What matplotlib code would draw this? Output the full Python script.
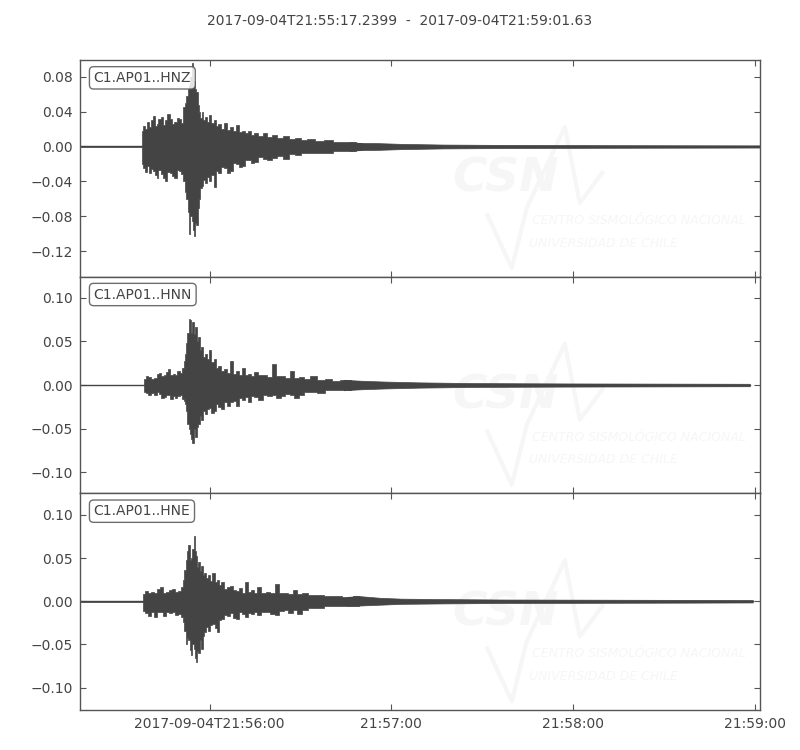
import datetime as dt

import matplotlib
matplotlib.use("Agg")
import matplotlib.pyplot as plt
import matplotlib.dates as mdates
import numpy as np

# trace start / end
start = dt.datetime(2017, 9, 4, 21, 55, 17, 239900)
end = dt.datetime(2017, 9, 4, 21, 59, 1, 630000)

channels = ["C1.AP01..HNZ", "C1.AP01..HNN", "C1.AP01..HNE"]

# envelope of each trace (seconds after start, amplitude)
hnz_t = [0, 20.2, 20.6, 21.2, 21.8, 22.5, 23.2, 23.8, 24.3, 25.0, 25.5,
         26.2, 27, 27.7, 28.5, 29.2, 30, 30.8, 31.5, 32.2, 33, 33.7, 34.3,
         34.8, 35.3, 35.8, 36.2, 36.6, 37.0, 37.4, 37.8, 38.2, 38.6, 39.0,
         39.5, 40.0, 40.5, 41.0, 41.5, 42.2, 43, 43.7, 44.5, 45.2, 46, 47,
         48, 49, 50, 51, 52, 53, 54, 55, 56, 57, 58, 59.5, 61, 62.5, 64, 66,
         68, 70, 72, 74, 76, 79, 82, 85, 89, 93, 97, 106, 120, 140, 170,
         224.39]
hnz_up = [0.0005, 0.0005, 0.018, 0.024, 0.020, 0.028, 0.022, 0.030, 0.035,
          0.024, 0.026, 0.031, 0.034, 0.025, 0.030, 0.037, 0.032, 0.026,
          0.028, 0.033, 0.032, 0.027, 0.045, 0.050, 0.058, 0.066, 0.070,
          0.080, 0.095, 0.072, 0.075, 0.066, 0.062, 0.048, 0.040, 0.033,
          0.040, 0.030, 0.034, 0.028, 0.036, 0.027, 0.030, 0.024, 0.026,
          0.020, 0.027, 0.019, 0.022, 0.018, 0.025, 0.017, 0.018, 0.015,
          0.018, 0.013, 0.015, 0.012, 0.016, 0.011, 0.013, 0.010, 0.012,
          0.009, 0.010, 0.008, 0.009, 0.006, 0.007, 0.005, 0.005, 0.004,
          0.004, 0.003, 0.0022, 0.0018, 0.0015, 0.0012]
hnz_lo = [-0.0005, -0.0005, -0.020, -0.025, -0.029, -0.022, -0.030, -0.026,
          -0.028, -0.033, -0.036, -0.027, -0.032, -0.036, -0.040, -0.029,
          -0.030, -0.034, -0.036, -0.027, -0.028, -0.032, -0.040, -0.052,
          -0.060, -0.075, -0.100, -0.080, -0.085, -0.096, -0.103, -0.088,
          -0.090, -0.070, -0.060, -0.048, -0.045, -0.038, -0.042, -0.035,
          -0.040, -0.033, -0.046, -0.028, -0.030, -0.024, -0.025, -0.030,
          -0.028, -0.019, -0.020, -0.024, -0.022, -0.015, -0.016, -0.019,
          -0.018, -0.012, -0.014, -0.016, -0.013, -0.011, -0.014, -0.009,
          -0.010, -0.007, -0.008, -0.007, -0.007, -0.005, -0.005, -0.004,
          -0.004, -0.003, -0.0022, -0.0018, -0.0015, -0.0012]

hnn_t = [0, 20.8, 21.3, 22.2, 23, 24, 25, 25.8, 26.5, 27.2, 28, 28.8,
         29.5, 30.2, 31, 31.8, 32.5, 33.3, 34, 34.4, 34.8, 35.2, 35.7, 36.1,
         36.5, 36.9, 37.3, 37.7, 38.2, 38.7, 39.2, 39.7, 40.3, 40.9, 41.5,
         42.2, 43, 43.7, 44.5, 45.2, 46, 47, 48, 49, 50, 51, 52, 53, 54, 55,
         56, 57, 58, 59.5, 61, 62.5, 64, 65.5, 67, 68.5, 70, 71.5, 73, 75,
         77, 79.5, 82, 84.5, 87, 92, 100, 112, 130, 160, 190, 221]
hnn_up = [0.0005, 0.0005, 0.007, 0.010, 0.009, 0.007, 0.008, 0.013, 0.014,
          0.010, 0.012, 0.015, 0.018, 0.011, 0.013, 0.012, 0.016, 0.014,
          0.020, 0.028, 0.036, 0.048, 0.060, 0.076, 0.074, 0.060, 0.072,
          0.058, 0.066, 0.050, 0.055, 0.040, 0.044, 0.032, 0.036, 0.030,
          0.040, 0.026, 0.030, 0.020, 0.022, 0.016, 0.018, 0.014, 0.027,
          0.013, 0.016, 0.012, 0.020, 0.011, 0.013, 0.010, 0.015, 0.011,
          0.012, 0.009, 0.024, 0.010, 0.010, 0.008, 0.016, 0.008, 0.009,
          0.007, 0.010, 0.006, 0.007, 0.005, 0.006, 0.005, 0.004, 0.003,
          0.0022, 0.0018, 0.0016, 0.0014]
hnn_lo = [-0.0005, -0.0005, -0.008, -0.009, -0.011, -0.009, -0.011, -0.008,
          -0.010, -0.015, -0.014, -0.011, -0.012, -0.016, -0.013, -0.015,
          -0.013, -0.012, -0.016, -0.018, -0.022, -0.030, -0.045, -0.050,
          -0.056, -0.062, -0.066, -0.050, -0.060, -0.048, -0.045, -0.036,
          -0.040, -0.030, -0.033, -0.028, -0.026, -0.032, -0.030, -0.022,
          -0.025, -0.027, -0.020, -0.024, -0.020, -0.018, -0.024, -0.015,
          -0.017, -0.014, -0.020, -0.013, -0.014, -0.017, -0.012, -0.013,
          -0.012, -0.015, -0.013, -0.010, -0.011, -0.015, -0.011, -0.008,
          -0.008, -0.009, -0.006, -0.006, -0.006, -0.005, -0.004, -0.003,
          -0.0022, -0.0018, -0.0016, -0.0014]

hne_t = [0, 20.6, 21.1, 22, 23, 24, 25, 26, 27, 28, 29, 30, 31, 32, 33,
         33.6, 34.2, 34.7, 35.2, 35.6, 36.0, 36.4, 36.9, 37.3, 37.7, 38.1,
         38.5, 38.9, 39.3, 39.8, 40.2, 40.7, 41.2, 41.8, 42.5, 43.2, 44,
         44.8, 45.5, 46.2, 47, 48, 49, 50, 51, 52, 53, 54, 55, 56, 57, 58,
         59, 60.5, 62, 63.5, 65, 66.5, 68, 69.5, 71, 72.5, 74, 76.5, 79, 82,
         85, 88, 92, 99, 106, 120, 140, 170, 200, 222]
hne_up = [0.0005, 0.0005, 0.008, 0.012, 0.009, 0.011, 0.010, 0.014, 0.016,
          0.010, 0.011, 0.013, 0.014, 0.011, 0.012, 0.016, 0.025, 0.036,
          0.048, 0.058, 0.065, 0.048, 0.050, 0.060, 0.076, 0.058, 0.053,
          0.040, 0.045, 0.035, 0.041, 0.030, 0.033, 0.027, 0.030, 0.024,
          0.033, 0.022, 0.025, 0.019, 0.022, 0.014, 0.016, 0.018, 0.013,
          0.012, 0.015, 0.010, 0.022, 0.011, 0.013, 0.010, 0.016, 0.010,
          0.011, 0.009, 0.020, 0.009, 0.010, 0.008, 0.013, 0.008, 0.010,
          0.007, 0.007, 0.006, 0.006, 0.005, 0.006, 0.004, 0.003, 0.0025,
          0.002, 0.0018, 0.0016, 0.0014]
hne_lo = [-0.0005, -0.0005, -0.011, -0.014, -0.017, -0.013, -0.018, -0.012,
          -0.013, -0.017, -0.012, -0.014, -0.012, -0.016, -0.015, -0.018,
          -0.024, -0.035, -0.050, -0.042, -0.045, -0.056, -0.062, -0.050,
          -0.055, -0.066, -0.070, -0.058, -0.060, -0.045, -0.055, -0.040,
          -0.036, -0.030, -0.034, -0.028, -0.026, -0.031, -0.036, -0.022,
          -0.020, -0.016, -0.017, -0.014, -0.019, -0.020, -0.013, -0.015,
          -0.018, -0.014, -0.015, -0.012, -0.016, -0.012, -0.012, -0.015,
          -0.016, -0.011, -0.010, -0.014, -0.010, -0.015, -0.010, -0.008,
          -0.008, -0.006, -0.006, -0.005, -0.005, -0.004, -0.003, -0.0025,
          -0.002, -0.0018, -0.0016, -0.0014]

traces = [(hnz_t, hnz_up, hnz_lo), (hnn_t, hnn_up, hnn_lo),
          (hne_t, hne_up, hne_lo)]

ylims = [(-0.149, 0.099), (-0.124, 0.124), (-0.126, 0.125)]
yticks = [[-0.12, -0.08, -0.04, 0.0, 0.04, 0.08],
          [-0.10, -0.05, 0.0, 0.05, 0.10],
          [-0.10, -0.05, 0.0, 0.05, 0.10]]

tick_times = ["21:56:00", "21:57:00", "21:58:00", "21:59:00"]
tick_labels = ["2017-09-04T21:56:00", "21:57:00", "21:58:00", "21:59:00"]

wave_color = "#444444"
text_color = "#444444"
frame_color = "#555555"
mark_color = "#f6f6f6"
step_until = 90  # seconds; envelope drawn stepwise (spiky) before, smooth after

fig = plt.figure(figsize=(8, 7.5), dpi=100)
fig.text(0.5, 0.972, "2017-09-04T21:55:17.2399  -  2017-09-04T21:59:01.63",
         ha="center", va="center", fontsize=10, color=text_color)

left, width = 0.1, 0.85
bottom, top = 0.0533, 0.92
h = (top - bottom) / 3

x0 = mdates.date2num(start)
x1 = mdates.date2num(end)
tick_pos = [mdates.date2num(dt.datetime.combine(start.date(),
            dt.datetime.strptime(s, "%H:%M:%S").time())) for s in tick_times]

# faint CSN logo line (axes fraction)
logo_x = [0.599, 0.635, 0.657, 0.713, 0.735, 0.768]
logo_y = [0.285, 0.040, 0.317, 0.691, 0.340, 0.479]

for i, (name, (t, up, lo)) in enumerate(zip(channels, traces)):
    ax = fig.add_axes([left, top - (i + 1) * h, width, h])

    # watermark
    ax.text(0.548, 0.45, "CSN", transform=ax.transAxes, fontsize=34,
            fontstyle="italic", fontweight="bold", color=mark_color,
            ha="left", va="center", zorder=0)
    ax.plot(logo_x, logo_y, transform=ax.transAxes, color=mark_color, lw=3,
            zorder=0)
    ax.text(0.664, 0.26, "CENTRO SISMOLÓGICO NACIONAL", transform=ax.transAxes,
            fontsize=9, fontstyle="italic", color=mark_color,
            ha="left", va="center", zorder=0, clip_on=True)
    ax.text(0.660, 0.155, "UNIVERSIDAD DE CHILE", transform=ax.transAxes,
            fontsize=9, fontstyle="italic", color=mark_color,
            ha="left", va="center", zorder=0, clip_on=True)

    t = np.array(t)
    up = np.array(up)
    lo = np.array(lo)
    tx = x0 + t / 86400.0
    k = np.searchsorted(t, step_until)
    ax.fill_between(tx[:k + 1], lo[:k + 1], up[:k + 1], step="mid",
                    color=wave_color, lw=0.5, edgecolor=wave_color, zorder=2)
    ax.fill_between(tx[k - 1:], lo[k - 1:], up[k - 1:], color=wave_color,
                    lw=0.5, edgecolor=wave_color, zorder=2)
    ax.plot([x0, tx[-1]], [0, 0], color=wave_color, lw=1.0, zorder=2)

    ax.set_xlim(x0, x1)
    ax.set_ylim(*ylims[i])
    ax.set_yticks(yticks[i])
    ax.set_yticklabels([("%.2f" % v).replace("-", "\u2212") for v in yticks[i]])
    ax.set_xticks(tick_pos)
    if i == 2:
        ax.set_xticklabels(tick_labels)
    else:
        ax.set_xticklabels([])

    ax.tick_params(direction="in", length=4, width=0.8, colors=frame_color,
                   labelcolor=text_color, labelsize=10, top=True, right=True,
                   pad=5)
    for sp in ax.spines.values():
        sp.set_color(frame_color)
        sp.set_linewidth(1.0)

    ax.text(0.02, 0.95, name, transform=ax.transAxes, va="top", ha="left",
            fontsize=10, color=text_color, zorder=5,
            bbox=dict(boxstyle="round,pad=0.3", fc="white", ec=frame_color,
                      alpha=0.85))

fig.savefig("out.png", dpi=100)
